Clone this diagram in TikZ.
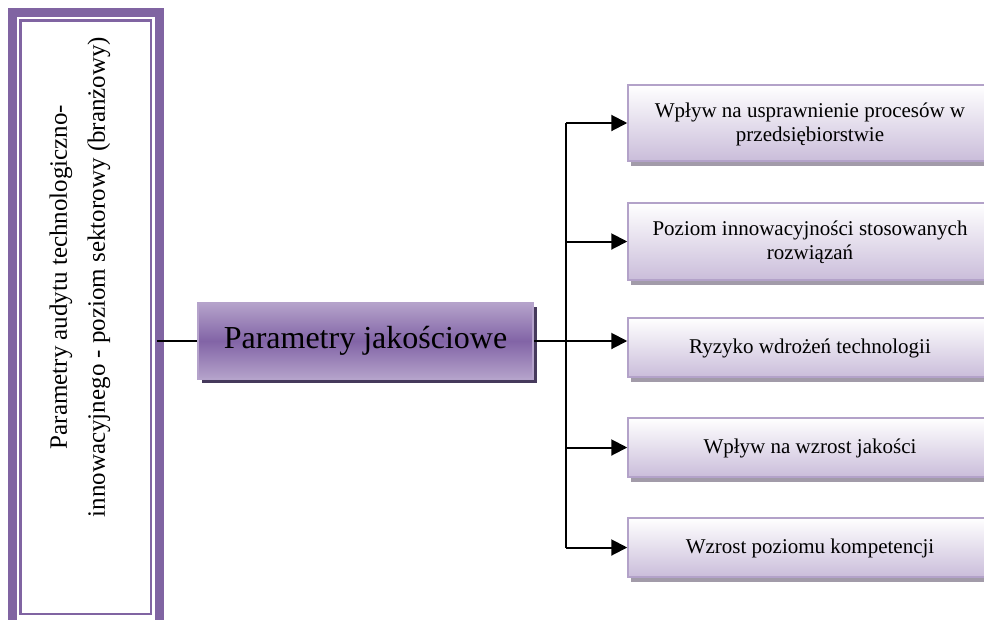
\documentclass[tikz,border=0pt]{standalone}
\usepackage{fontspec}
\setmainfont{Liberation Serif}
\usetikzlibrary{arrows.meta,shadows}

\definecolor{ramka}{HTML}{8064A2}
\definecolor{srodek}{HTML}{8264A6}
\definecolor{jasny}{HTML}{B5A3CB}
\definecolor{ciemny}{HTML}{463A5C}
\definecolor{brzeg}{HTML}{B3A2C9}
\definecolor{dol}{HTML}{CABDDA}
\definecolor{cien}{HTML}{A29BA9}

\tikzset{
  linia/.style={line width=2pt},
  strzalka/.style={line width=2pt, -{Triangle[length=16pt,width=16pt]}},
  wynik/.style={draw=brzeg, line width=1.5pt, top color=white, bottom color=dol,
    minimum width=364pt, minimum height=59pt, align=center,
    font=\fontsize{21}{24}\selectfont, text depth=2pt,
    drop shadow={fill=cien, opacity=1, shadow xshift=3pt, shadow yshift=-5pt}}
}

\begin{document}
\begin{tikzpicture}[x=1pt,y=1pt]
        \useasboundingbox (0,0) rectangle (984,-619);

        % Left frame
        \draw[ramka, line width=9pt] (12.5,-12.5) rectangle (159.5,-640);
        \node[draw=ramka, line width=2.5pt, minimum width=130.5pt, minimum height=593.5pt] (audyt) at (85.75,-317.25) {};
        \node[rotate=90, align=center, font=\fontsize{25}{38}\selectfont] (audytopis) at (80,-277)
            {Parametry audytu technologiczno-\\innowacyjnego - poziom sektorowy (branżowy)};

        % Middle box
        \node[draw=jasny, line width=1.5pt, top color=jasny, bottom color=jasny, middle color=srodek,
              minimum width=335pt, minimum height=76pt, font=\fontsize{32}{36}\selectfont,
              drop shadow={fill=ciemny, opacity=1, shadow xshift=4pt, shadow yshift=-4pt}]
              (jakosc) at (365.5,-341) {Parametry jakościowe};

        % Right boxes
        \node[wynik, minimum height=76pt] (r1) at (810,-123) {Wpływ na usprawnienie procesów w\\przedsiębiorstwie};
        \node[wynik, minimum height=77pt] (r2) at (810,-241.5) {Poziom innowacyjności stosowanych\\rozwiązań};
        \node[wynik] (r3) at (810,-347.5) {Ryzyko wdrożeń technologii};
        \node[wynik] (r4) at (810,-447.5) {Wpływ na wzrost jakości};
        \node[wynik] (r5) at (810,-547.5) {Wzrost poziomu kompetencji};

        % Connectors
        \coordinate (pasek) at (157,-341);
        \coordinate (rozgal) at (566,-341);
        \draw[linia] (pasek) -- (jakosc.west);
        \draw[linia] (jakosc.east) -- (rozgal);
        \draw[linia] (rozgal |- r1.west) -- (rozgal |- r5.west);
        \draw[strzalka] (rozgal) -- (rozgal -| r3.west);
        \foreach \r in {r1,r2,r4,r5}
            \draw[strzalka] (rozgal |- \r.west) -- (\r.west);

    \end{tikzpicture}
\end{document}
